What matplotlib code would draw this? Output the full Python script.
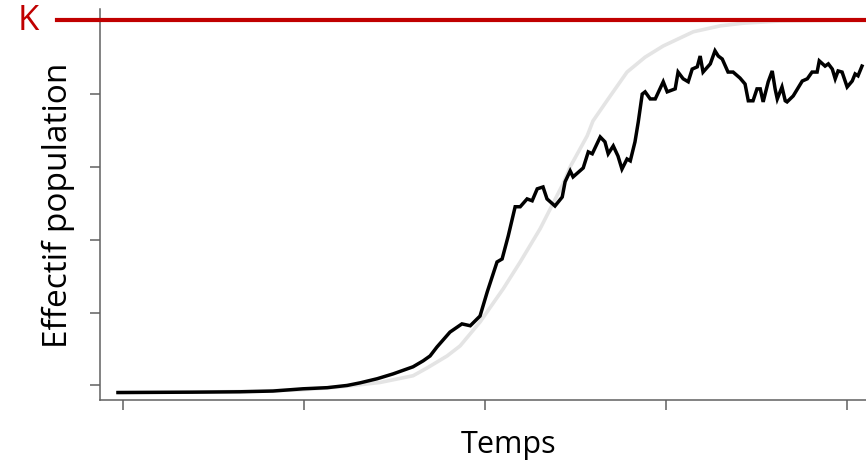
import matplotlib.pyplot as plt

# carrying capacity
K = 1000

# stochastic simulation (black line)
temps_sim = [-1.4, 19.3, 32.3, 41.4, 49.7, 56.4, 61.9, 65.5, 70.2, 74.6, 80.1, 82.9, 84.8,
             86.7, 90.3, 93.6, 95.9, 98.6, 100.6, 103.3, 104.7, 106.4, 108.3, 109.7, 111.6,
             113.0, 114.4, 116.0, 117.1, 119.3, 121.3, 122.1, 123.5, 124.3, 127.1, 128.5,
             129.6, 131.8, 133.1, 134.0, 135.4, 136.7, 137.8, 139.2, 140.1, 141.4, 142.3,
             143.4, 144.2, 145.6, 147.0, 149.2, 150.3, 152.5, 153.3, 154.7, 156.1, 157.2,
             158.6, 159.4, 160.2, 162.2, 163.5, 164.4, 165.5, 167.1, 168.5, 170.4, 171.8,
             172.7, 174.0, 175.1, 176.0, 176.8, 178.2, 179.3, 180.1, 180.7, 182.0, 182.9,
             183.4, 185.1, 187.6, 189.0, 190.3, 191.7, 192.3, 193.9, 194.8, 195.9, 196.7,
             197.5, 198.6, 200.0, 201.4, 202.2, 203.0, 204.1]
effectif_sim = [1, 2, 3, 5, 11, 14, 20, 27, 38, 51, 70, 86, 99,
                123, 163, 185, 180, 206, 271, 351, 359, 421, 499, 499, 520,
                515, 547, 552, 520, 501, 525, 566, 595, 579, 603, 646,
                641, 686, 673, 641, 662, 635, 600, 627, 622, 673, 726,
                801, 807, 788, 788, 834, 807, 815, 860, 842, 834, 868,
                874, 903, 860, 882, 917, 903, 895, 860, 860, 844, 828,
                783, 783, 815, 815, 780, 834, 863, 815, 788, 820, 783,
                780, 796, 836, 842, 860, 860, 890, 876, 882, 868, 842,
                863, 860, 820, 836, 855, 850, 876]

# deterministic logistic curve (grey line)
temps_det = [-1.4, 21, 38, 48.9, 59.9, 71, 80.1, 84, 89.5, 93.1, 98.6, 105, 109.7,
             115.2, 121.5, 123.5, 128.2, 129.8, 134, 139.2, 144.2, 149.2, 157.5, 165,
             171.3, 181.5, 204]
effectif_det = [1, 2, 5, 8, 16, 28, 46, 67, 99, 126, 190, 279, 351,
                440, 560, 606, 689, 729, 788, 860, 900, 930, 968, 984,
                991, 997, 1000]

xticks = [0, 50, 100, 150, 200]
yticks = [20, 215, 410, 605, 800]

plt.rcParams['font.family'] = ['Open Sans', 'DejaVu Sans']

fig = plt.figure(figsize=(8.66, 4.64), dpi=100)
ax = fig.add_axes([0.1149, 0.1358, 0.9457, 0.8426])

axis_col = '#606060'

ax.plot(temps_det, effectif_det, color='#e4e4e4', lw=2.6, solid_capstyle='round', zorder=2)
ax.plot(temps_sim, effectif_sim, color='black', lw=2.5, solid_joinstyle='miter', zorder=3)

# K line, sticking out to the left of the axis
ax.axhline(K, xmin=-0.052, xmax=1, color='#c00000', lw=3, clip_on=False, zorder=4)
ax.text(-0.087, K, 'K', transform=ax.get_yaxis_transform(), color='#c00000',
        fontsize=25, ha='center', va='center')

ax.set_xlim(-6.5, 219.7)
ax.set_ylim(-19, 1029)
ax.set_xticks(xticks)
ax.set_yticks(yticks)
ax.set_xticklabels([])
ax.set_yticklabels([])
ax.tick_params(length=7.2, width=1.1, color=axis_col)

for s in ['top', 'right']:
    ax.spines[s].set_visible(False)
for s in ['left', 'bottom']:
    ax.spines[s].set_color(axis_col)
    ax.spines[s].set_linewidth(1.1)

ax.set_xlabel('Temps', fontsize=22, labelpad=10)
ax.set_ylabel('Effectif population', fontsize=24, labelpad=7)

fig.savefig('out.png', dpi=100)
